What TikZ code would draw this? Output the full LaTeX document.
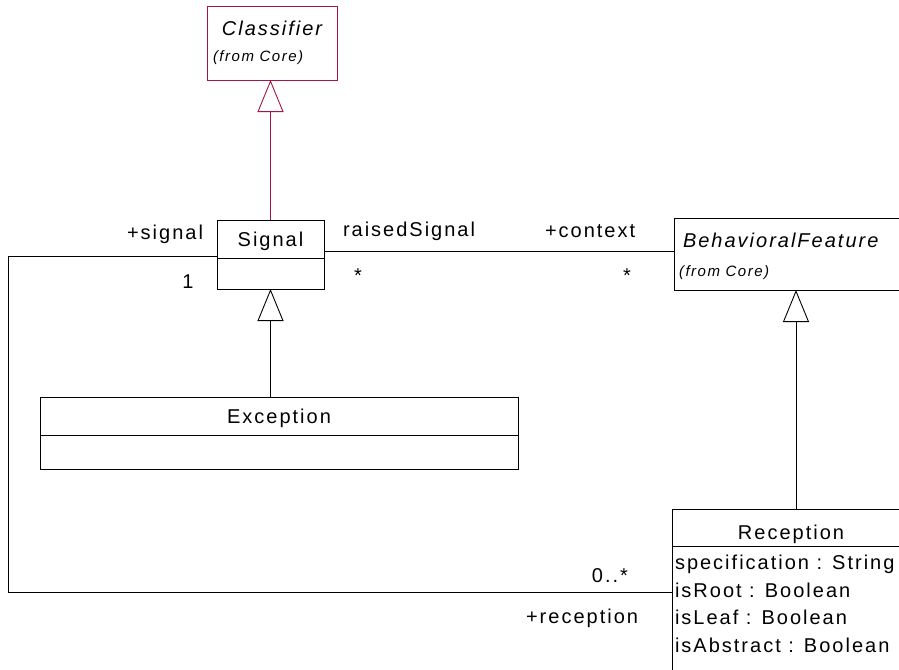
\documentclass[tikz,border=0pt]{standalone}
\usepackage{fontspec}
\setmainfont{Liberation Sans}[LetterSpace=10]
\usetikzlibrary{arrows.meta,calc}
\definecolor{crim}{RGB}{165,20,75}
\newcommand\mainfs{\fontsize{20}{26}\selectfont}
\newcommand\smallfs{\fontsize{15}{18}\selectfont\itshape}
\begin{document}
\begin{tikzpicture}[x=1pt,y=-1pt,
  umlbox/.style={draw, line width=1pt, inner sep=0pt, outer sep=0pt, anchor=north west},
  lbl/.style={inner sep=0pt, outer sep=0pt, font=\mainfs},
  small/.style={inner sep=0pt, outer sep=0pt, font=\smallfs, anchor=base west},
  conn/.style={line width=0.9pt},
  inherit/.style={conn, -{Triangle[open, length=32pt, width=26pt, line width=0.9pt]}}]
\useasboundingbox (0,0) rectangle (899,669);
\clip (0,0) rectangle (899,669);
\fill[white] (0,0) rectangle (899,669);

% Classifier
\node[umlbox, draw=crim, minimum width=130pt, minimum height=73pt] (classifier) at (207,7) {};
\node[lbl, anchor=base, font=\mainfs\itshape] (clsname) at (272,36) {Classifier};
\node[small] (clsfrom) at (213,62) {(from Core)};

% Signal
\node[umlbox, minimum width=107pt, minimum height=69pt] (signal) at (217,220) {};
\draw[line width=1pt] ($(signal.north west)+(0,38)$) -- ($(signal.north east)+(0,38)$);
\node[lbl, anchor=base] (signame) at (270.5,246) {Signal};

% Exception
\node[umlbox, minimum width=478pt, minimum height=72pt] (exception) at (40,397) {};
\draw[line width=1pt] ($(exception.north west)+(0,38)$) -- ($(exception.north east)+(0,38)$);
\node[lbl, anchor=base] (excname) at (279,423) {Exception};

% BehavioralFeature
\node[umlbox, minimum width=244pt, minimum height=72pt] (bf) at (674,218) {};
\node[lbl, anchor=base west, font=\mainfs\itshape] (bfname) at (683,247) {BehavioralFeature};
\node[small] (bffrom) at (679,276) {(from Core)};

% Reception
\node[umlbox, minimum width=248pt, minimum height=200pt] (reception) at (672,509) {};
\draw[line width=1pt] ($(reception.north west)+(0,37)$) -- ($(reception.north east)+(0,37)$);
\node[lbl, anchor=base] (recname) at (791,539) {Reception};
\node[lbl, anchor=base west] (a1) at (675,569) {specification : String};
\node[lbl, anchor=base west] (a2) at (675,597) {isRoot : Boolean};
\node[lbl, anchor=base west] (a3) at (675,624) {isLeaf : Boolean};
\node[lbl, anchor=base west] (a4) at (675,652) {isAbstract : Boolean};

% generalizations
\draw[inherit, crim] (signal.north) -- (signal.north |- classifier.south);
\draw[inherit] (exception.north -| signal.south) -- (signal.south);
\draw[inherit] (reception.north) -- (bf.south);

% associations
\coordinate (sigR) at (signal.east |- 0,251);
\coordinate (bfL) at (bf.west |- 0,251);
\draw[conn] (sigR) -- (bfL);
\coordinate (sigL) at (signal.west |- 0,256);
\coordinate (recL) at (reception.west |- 0,592);
\coordinate (corner) at (8,256);
\draw[conn] (sigL) -- (corner) |- (recL);

% role labels
\node[lbl, anchor=base east] (rsig) at (203,239) {+signal};
\node[lbl, anchor=base] (m1) at (188,288) {1};
\node[lbl, anchor=base west] (rais) at (343,236) {raisedSignal};
\node[lbl, anchor=base west] (rctx) at (545,237) {+context};
\node[lbl, anchor=base] (ms1) at (358,282) {*};
\node[lbl, anchor=base] (ms2) at (627,282) {*};
\node[lbl, anchor=base east] (m0) at (628,582) {0..*};
\node[lbl, anchor=base east] (rrec) at (638,623) {+reception};
\end{tikzpicture}
\end{document}
